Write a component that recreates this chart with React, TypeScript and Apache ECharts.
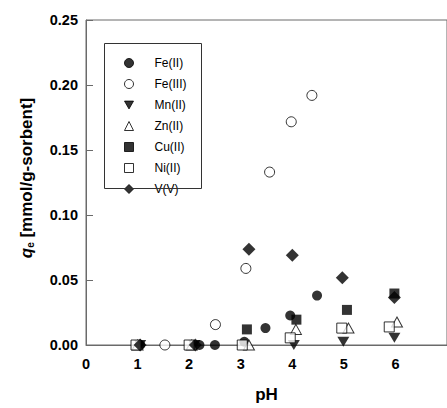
import React, { useEffect, useRef } from "react";
import * as echarts from "echarts";

const xTicks = [0, 1, 2, 3, 4, 5, 6, 7];
const yTicks = [0, 0.05, 0.1, 0.15, 0.2, 0.25];

const feII: number[][] = [[1.05, 0], [2.2, 0], [2.5, 0], [3.07, 0.0025], [3.48, 0.013], [3.96, 0.0227], [4.48, 0.038]];
const feIII: number[][] = [[1.53, 0], [2.51, 0.0157], [3.1, 0.0589], [3.56, 0.133], [3.98, 0.1717], [4.38, 0.192]];
const mnII: number[][] = [[1.05, 0], [2.1, 0], [4.03, 0], [4.99, 0.0025], [5.98, 0.0055]];
const znII: number[][] = [[1.0, 0], [2.05, 0], [3.16, 0], [4.07, 0.012], [5.09, 0.013], [6.03, 0.0177]];
const cuII: number[][] = [[3.12, 0.012], [4.08, 0.0195], [5.06, 0.027], [5.98, 0.0396]];
const niII: number[][] = [[0.97, 0], [2.0, 0], [3.03, 0], [3.96, 0.0055], [4.96, 0.013], [5.88, 0.0139]];
const vV: number[][] = [[1.05, 0], [2.12, 0], [3.16, 0.0737], [4.0, 0.069], [4.97, 0.0518], [5.98, 0.0366]];

const seriesNames = ["Fe(II)", "Fe(III)", "Mn(II)", "Zn(II)", "Cu(II)", "Ni(II)", "V(V)"];
const xTitle = "pH";
const yTitleParts = ["q", "e", " [mmol/g-sorbent]"];

const FONT = "'Liberation Sans', Arial, sans-serif";
const AXIS_COLOR = "#6a6a6a";

export default function App() {
  const ref = useRef<HTMLDivElement>(null);
  useEffect(() => {
    if (!ref.current) return;
    const chart = echarts.init(ref.current, undefined, { renderer: "svg" });
    const filled = { color: "#000", borderColor: "#000", borderWidth: 0 };
    const open = { color: "#fff", borderColor: "#000", borderWidth: 1 };
    const triDown = "path://M0 0L10 0L5 8.66Z";
    const mk = (name: string, data: number[][], symbol: string, size: number | number[], style: any) => ({
      name,
      type: "scatter",
      data,
      symbol,
      symbolSize: size,
      itemStyle: style,
      emphasis: { disabled: true },
    });
    chart.setOption({
      animation: false,
      backgroundColor: "#fff",
      textStyle: { fontFamily: FONT },
      grid: {
        left: 86,
        top: 20,
        width: 367,
        height: 330,
        show: true,
        borderColor: AXIS_COLOR,
        borderWidth: 1,
        containLabel: false,
      },
      legend: {
        orient: "vertical",
        left: 104,
        top: 43,
        padding: [14, 0, 0, 20],
        itemGap: 9,
        itemWidth: 9,
        itemHeight: 9,
        itemStyle: { borderWidth: 1 },
        data: seriesNames,
        textStyle: { fontSize: 12, color: "#000", fontFamily: FONT, padding: [0, 0, 0, 16] },
        selectedMode: false,
      },
      xAxis: {
        type: "value",
        min: xTicks[0],
        max: xTicks[xTicks.length - 1],
        interval: 1,
        splitLine: { show: false },
        axisLine: { show: true, lineStyle: { color: AXIS_COLOR } },
        axisTick: { show: false },
        axisLabel: {
          showMaxLabel: false,
          margin: 11,
          fontSize: 14.5,
          fontWeight: "bold",
          color: "#000",
          fontFamily: FONT,
        },
        name: xTitle,
        nameLocation: "middle",
        nameGap: 41,
        nameTextStyle: { fontSize: 17, fontWeight: "bold", color: "#000", fontFamily: FONT },
      },
      yAxis: {
        type: "value",
        min: yTicks[0],
        max: yTicks[yTicks.length - 1],
        interval: 0.05,
        splitLine: { show: false },
        axisLine: { show: true, lineStyle: { color: AXIS_COLOR } },
        axisTick: { show: true, inside: true, length: 7, lineStyle: { color: AXIS_COLOR } },
        axisLabel: {
          margin: 8,
          fontSize: 14.5,
          fontWeight: "bold",
          color: "#000",
          fontFamily: FONT,
          formatter: (v: number) => v.toFixed(2),
        },
      },
      graphic: [
        {
          type: "rect",
          shape: { x: 104.5, y: 43.5, width: 97, height: 145 },
          style: { fill: "none", stroke: "#333", lineWidth: 1 },
          silent: true,
          z: 10,
        },
        {
          type: "text",
          x: 26,
          y: 178,
          rotation: Math.PI / 2,
          silent: true,
          style: {
            text: `{q|${yTitleParts[0]}}{e|${yTitleParts[1]}}{n|${yTitleParts[2]}}`,
            align: "center",
            verticalAlign: "middle",
            fill: "#000",
            fontFamily: FONT,
            rich: {
              q: { fontSize: 17, fontWeight: "bold", fontStyle: "italic", fontFamily: FONT, fill: "#000" },
              e: { fontSize: 10, fontWeight: "bold", fontFamily: FONT, fill: "#000", padding: [9, 0, 0, 0] },
              n: { fontSize: 17, fontWeight: "bold", fontFamily: FONT, fill: "#000" },
            },
          },
        },
      ],
      series: [
        mk(seriesNames[0], feII, "circle", 10, filled),
        mk(seriesNames[1], feIII, "circle", 10, open),
        mk(seriesNames[2], mnII, triDown, [12, 10], filled),
        mk(seriesNames[3], znII, "triangle", [11, 10], open),
        mk(seriesNames[4], cuII, "rect", 10, filled),
        mk(seriesNames[5], niII, "rect", 10, open),
        mk(seriesNames[6], vV, "diamond", 13, filled),
      ],
    });
    return () => chart.dispose();
  }, []);
  return <div ref={ref} style={{ position: "fixed", left: 0, top: 0, width: 447, height: 408 }} />;
}
